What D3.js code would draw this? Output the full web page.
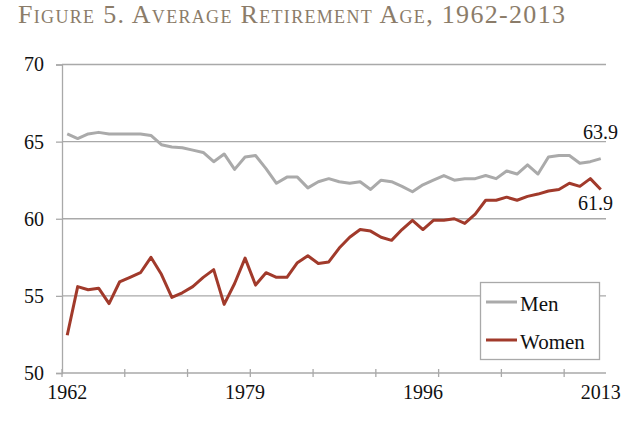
<!DOCTYPE html>
<html>
<head>
<meta charset="utf-8">
<script src="https://cdn.jsdelivr.net/npm/d3@7/dist/d3.min.js"></script>
<style>
  html, body { margin: 0; padding: 0; background: #fff; }
  svg { display: block; }
  text { font-family: "Liberation Serif", "DejaVu Serif", serif; }
</style>
</head>
<body>
<svg id="chart" width="640" height="429"></svg>
<script>
const years = [1962,1963,1964,1965,1966,1967,1968,1969,1970,1971,1972,1973,1974,1975,1976,1977,1978,1979,1980,1981,1982,1983,1984,1985,1986,1987,1988,1989,1990,1991,1992,1993,1994,1995,1996,1997,1998,1999,2000,2001,2002,2003,2004,2005,2006,2007,2008,2009,2010,2011,2012,2013];
const menValues = [65.5,65.2,65.5,65.6,65.5,65.5,65.5,65.5,65.4,64.8,64.65,64.6,64.45,64.3,63.7,64.2,63.2,64.0,64.1,63.25,62.3,62.7,62.7,62.0,62.4,62.6,62.4,62.3,62.4,61.9,62.5,62.4,62.1,61.75,62.2,62.5,62.8,62.5,62.6,62.6,62.8,62.6,63.1,62.9,63.5,62.9,64.0,64.1,64.1,63.6,63.7,63.9];
const womenValues = [52.45,55.6,55.4,55.5,54.5,55.9,56.2,56.5,57.5,56.4,54.9,55.2,55.6,56.2,56.7,54.45,55.8,57.45,55.7,56.5,56.2,56.2,57.15,57.6,57.1,57.2,58.1,58.8,59.3,59.2,58.8,58.6,59.3,59.9,59.3,59.9,59.9,60.0,59.7,60.3,61.2,61.2,61.4,61.2,61.45,61.6,61.8,61.9,62.3,62.1,62.6,61.9];
const yTicks = [50,55,60,65,70];
const xLabelYears = [1962,1979,1996,2013];
const tickYears = [1962,1968,1974,1980,1986,1992,1998,2004,2010];
const seriesNames = ["Men","Women"];
const titleText = "Figure 5. Average Retirement Age, 1962-2013";

(function () {
const svg = d3.select("#chart");
const mLeft = 62, mRight = 606, mTop = 64.5, mBottom = 373;
const gridColor = "#a9a9a9";
const menColor = "#aaaaaa";
const womenColor = "#a13a2b";

const x = d3.scaleBand().domain(years).range([mLeft, mRight]).paddingInner(0).paddingOuter(0);
const xc = d => x(d) + x.bandwidth() / 2;
const y = d3.scaleLinear().domain([50, 70]).range([mBottom, mTop]);

// title
svg.append("text")
  .attr("x", 18).attr("y", 23)
  .attr("fill", "#8b7c69")
  .attr("textLength", 547)
  .attr("lengthAdjust", "spacing")
  .style("font-size", "26px")
  .style("font-variant", "small-caps")
  .text(titleText);

// gridlines
svg.append("g").selectAll("line").data(yTicks.filter(t => t !== 50)).join("line")
  .attr("x1", mLeft).attr("x2", mRight)
  .attr("y1", d => y(d)).attr("y2", d => y(d))
  .attr("stroke", gridColor).attr("stroke-width", 1.3);

// y axis
const yAxis = d3.axisLeft(y).tickValues(yTicks).tickSize(6).tickPadding(12).tickFormat(d3.format("d"));
const gy = svg.append("g").attr("transform", `translate(${mLeft},0)`).call(yAxis);
gy.select(".domain").attr("stroke", gridColor).attr("stroke-width", 1.3);
gy.selectAll(".tick line").attr("stroke", gridColor).attr("stroke-width", 1.3);
gy.selectAll(".tick text").attr("fill", "#111").style("font-size", "20px").style("font-family", "Liberation Serif, serif");

// x axis line
svg.append("line").attr("x1", mLeft).attr("x2", mRight).attr("y1", mBottom).attr("y2", mBottom)
  .attr("stroke", gridColor).attr("stroke-width", 1.3);
svg.append("g").selectAll("line").data(tickYears).join("line")
  .attr("x1", d => x(d)).attr("x2", d => x(d))
  .attr("y1", mBottom - 4).attr("y2", mBottom + 4)
  .attr("stroke", gridColor).attr("stroke-width", 1.3);
svg.append("g").selectAll("text").data(xLabelYears).join("text")
  .attr("x", d => xc(d)).attr("y", 399)
  .attr("text-anchor", "middle")
  .attr("fill", "#111")
  .style("font-size", "20px")
  .text(d => d);

// lines
const line = d3.line().x((d, i) => xc(years[i])).y(d => y(d));
svg.append("path").datum(menValues).attr("d", line)
  .attr("fill", "none").attr("stroke", menColor).attr("stroke-width", 3).attr("stroke-linejoin", "round");
svg.append("path").datum(womenValues).attr("d", line)
  .attr("fill", "none").attr("stroke", womenColor).attr("stroke-width", 3).attr("stroke-linejoin", "round");

// end labels
svg.append("text").attr("x", 583).attr("y", 139).attr("fill", "#111").style("font-size", "20px")
  .text(d3.format(".1f")(menValues[menValues.length - 1]));
svg.append("text").attr("x", 578).attr("y", 210).attr("fill", "#111").style("font-size", "20px")
  .text(d3.format(".1f")(womenValues[womenValues.length - 1]));

// legend
const lg = svg.append("g");
lg.append("rect").attr("x", 480.5).attr("y", 282.5).attr("width", 119).attr("height", 77)
  .attr("fill", "#fff").attr("stroke", gridColor).attr("stroke-width", 1.3);
const legColors = [menColor, womenColor];
const legY = [302, 340];
seriesNames.forEach((name, i) => {
  lg.append("line").attr("x1", 486).attr("x2", 517).attr("y1", legY[i]).attr("y2", legY[i])
    .attr("stroke", legColors[i]).attr("stroke-width", 3);
  lg.append("text").attr("x", 520).attr("y", legY[i] + 8.5).attr("fill", "#111")
    .style("font-size", "21px").text(name);
});
})();
</script>
</body>
</html>
